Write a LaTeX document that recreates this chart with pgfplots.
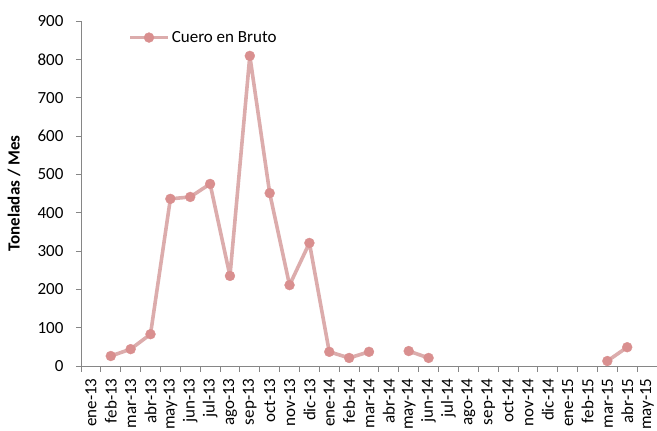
\documentclass[border=0pt]{standalone}
\usepackage{pgfplots}
\pgfplotsset{compat=1.18}
\usepackage{fontspec}
\setmainfont{Carlito}
\definecolor{linec}{RGB}{220,172,172}
\definecolor{markc}{RGB}{217,143,143}
\definecolor{axc}{RGB}{134,134,134}
\begin{document}
\begin{tikzpicture}
\begin{axis}[
  scale only axis,
  width=576pt, height=345pt,
  xmin=-0.5, xmax=28.5,
  ymin=0, ymax=900,
  ytick={0,100,...,900},
  xtick={0,...,28},
  xticklabels={ene-13,feb-13,mar-13,abr-13,may-13,jun-13,jul-13,ago-13,sep-13,oct-13,nov-13,dic-13,ene-14,feb-14,mar-14,abr-14,may-14,jun-14,jul-14,ago-14,sep-14,oct-14,nov-14,dic-14,ene-15,feb-15,mar-15,abr-15,may-15},
  minor xtick={-0.5,0.5,...,28.5},
  x tick label style={rotate=90, anchor=east, font=\fontsize{17}{20}\selectfont},
  y tick label style={font=\fontsize{17}{20}\selectfont},
  /pgf/number format/assume math mode=true,
  axis x line*=bottom, axis y line*=left,
  axis line style={axc, line width=0.9pt},
  every tick/.style={axc, line width=0.9pt},
  major x tick style={draw=none},
  tick align=outside,
  major tick length=5pt, minor tick length=6pt,
  xticklabel shift=4pt,
  yticklabel shift=9pt,
  ylabel={\textbf{Toneladas / Mes}},
  ylabel style={font=\fontsize{17}{20}\selectfont, at={(-57pt,0.5)}, anchor=south},
  unbounded coords=jump,
  legend style={draw=none, fill=none, at={(0.0816,0.952)}, anchor=west, font=\fontsize{17}{20}\selectfont, inner sep=0pt},
  legend cell align=left,
  legend image code/.code={\draw[#1, mark repeat=2, mark phase=2] plot coordinates {(0pt,0pt) (19pt,0pt) (38pt,0pt)};},
  clip=false,
]
\coordinate (bl) at (rel axis cs:0,0);
\coordinate (tr) at (rel axis cs:1,1);
\addplot[linec, line width=3.6pt, line join=round, mark=*, mark size=5pt, mark options={solid, fill=markc, draw=markc, line width=0.3pt}]
 coordinates {
 (0,nan) (1,26) (2,44) (3,83) (4,436) (5,441) (6,475) (7,235) (8,809) (9,451) (10,211) (11,321)
 (12,37) (13,21) (14,37) (15,nan) (16,39) (17,21) (18,nan) (19,nan) (20,nan) (21,nan) (22,nan)
 (23,nan) (24,nan) (25,nan) (26,13) (27,49) (28,nan)
 };
\addlegendentry{Cuero en Bruto}
\end{axis}
\pgfresetboundingbox
\path ([shift={(-81pt,-65pt)}]bl) rectangle ([shift={(0pt,21pt)}]tr);
\end{tikzpicture}
\end{document}
